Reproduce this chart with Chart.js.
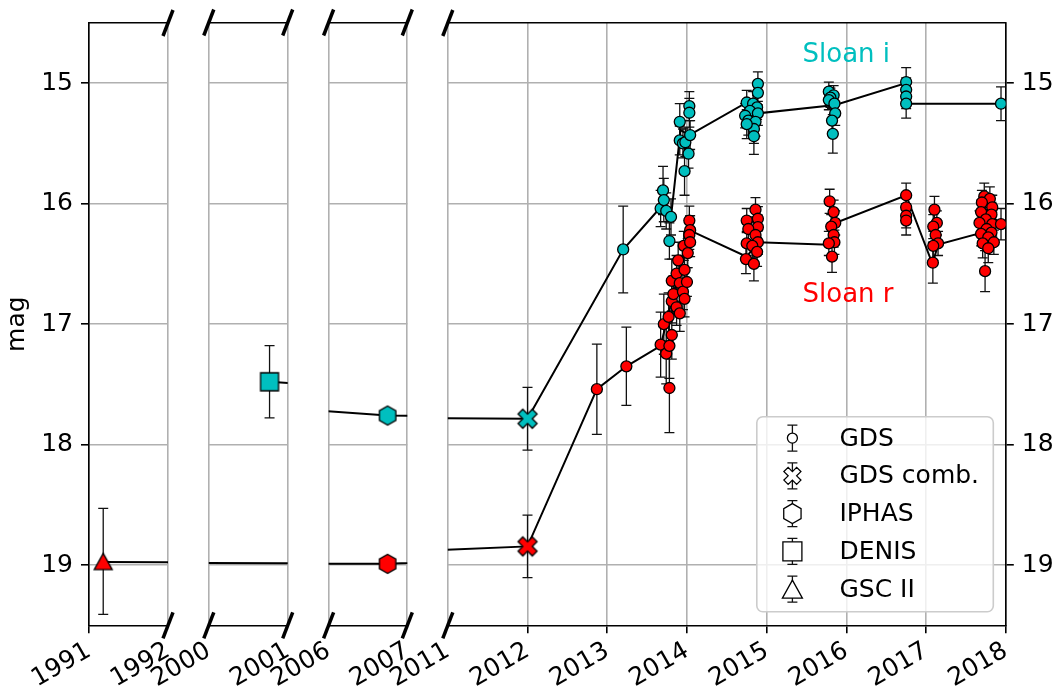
<!DOCTYPE html>
<html lang="en">
<head>
<meta charset="UTF-8">
<title>Light curve</title>
<script src="https://cdn.jsdelivr.net/npm/chart.js"></script>
<style>
  html, body { margin: 0; padding: 0; background: #fff; }
  #wrap { position: relative; width: 1056px; height: 691px; }
  #wrap canvas { position: absolute; left: 0; top: 0; }
</style>
</head>
<body>
<div id="wrap">
  <canvas id="p0" width="1056" height="691"></canvas>
  <canvas id="p1" width="1056" height="691"></canvas>
  <canvas id="p2" width="1056" height="691"></canvas>
  <canvas id="p3" width="1056" height="691"></canvas>
</div>
<script>
// ---- data ----
const panelStart = [1991, 2000, 2006, 2011];
const panelEnd = [1992, 2001, 2007, 2018];
const xTicks = [[1991, 1992], [2000, 2001], [2006, 2007], [2011, 2012, 2013, 2014, 2015, 2016, 2017, 2018]];
const yTicks = [15, 16, 17, 18, 19];

// GDS single epochs, Sloan i
const gdsIYear = [2013.20, 2013.67, 2013.70, 2013.71, 2013.74, 2013.80, 2013.78, 2013.91, 2013.91, 2013.95, 2013.98, 2013.97, 2014.02, 2014.03, 2014.03, 2014.04,
  2014.89, 2014.89, 2014.75, 2014.83, 2014.88, 2014.79, 2014.89, 2014.73, 2014.77, 2014.86, 2014.84, 2014.75, 2014.84,
  2015.78, 2015.84, 2015.80, 2015.78, 2015.85, 2015.86, 2015.82, 2015.83,
  2016.75, 2016.75, 2016.75, 2016.75, 2017.94];
const gdsIMag = [16.38, 16.04, 15.89, 15.97, 16.06, 16.11, 16.31, 15.32, 15.475, 15.50, 15.49, 15.73, 15.585, 15.19, 15.245, 15.43,
  15.005, 15.08, 15.16, 15.17, 15.20, 15.23, 15.25, 15.27, 15.31, 15.32, 15.38, 15.34, 15.44,
  15.07, 15.10, 15.12, 15.14, 15.17, 15.25, 15.31, 15.42,
  14.99, 15.055, 15.11, 15.17, 15.17];
const gdsIErr = [0.36, 0.15, 0.2, 0.18, 0.15, 0.15, 0.15, 0.15, 0.12, 0.12, 0.12, 0.2, 0.12, 0.12, 0.12, 0.12,
  0.1, 0.1, 0.1, 0.1, 0.1, 0.1, 0.1, 0.1, 0.12, 0.12, 0.12, 0.12, 0.15,
  0.08, 0.08, 0.08, 0.08, 0.08, 0.1, 0.1, 0.16,
  0.12, 0.1, 0.1, 0.12, 0.14];

// GDS single epochs, Sloan r
const gdsRYear = [2012.87, 2013.24, 2013.67, 2013.71, 2013.74, 2013.77, 2013.78, 2013.78, 2013.81, 2013.81, 2013.81, 2013.83, 2013.87, 2013.87, 2013.89, 2013.91, 2013.91, 2013.95, 2013.96, 2013.97, 2013.97, 2014.00, 2014.01, 2014.03, 2014.04, 2014.03, 2014.04,
  2014.86, 2014.89, 2014.75, 2014.89, 2014.77, 2014.86, 2014.89, 2014.75, 2014.82, 2014.88, 2014.74, 2014.84,
  2015.79, 2015.84, 2015.86, 2015.81, 2015.84, 2015.85, 2015.78, 2015.82,
  2016.75, 2016.75, 2016.75, 2016.75,
  2017.105, 2017.135, 2017.09, 2017.12, 2017.15, 2017.09, 2017.085,
  2017.73, 2017.80, 2017.70, 2017.83, 2017.69, 2017.82, 2017.75, 2017.83, 2017.67, 2017.94, 2017.76, 2017.82, 2017.69, 2017.78, 2017.85, 2017.71, 2017.78, 2017.74];
const gdsRMag = [17.54, 17.35, 17.17, 17.00, 17.245, 16.94, 17.18, 17.53, 17.09, 16.64, 16.81, 16.75, 16.58, 16.86, 16.47, 16.66, 16.91, 16.73, 16.35, 16.55, 16.79, 16.65, 16.41, 16.14, 16.22, 16.26, 16.32,
  16.05, 16.125, 16.14, 16.195, 16.21, 16.26, 16.32, 16.33, 16.35, 16.40, 16.46, 16.50,
  15.98, 16.07, 16.16, 16.19, 16.26, 16.32, 16.33, 16.44,
  15.93, 16.03, 16.10, 16.14,
  16.05, 16.16, 16.19, 16.26, 16.33, 16.35, 16.49,
  15.94, 15.96, 15.99, 16.03, 16.07, 16.09, 16.13, 16.17, 16.16, 16.17, 16.21, 16.24, 16.25, 16.28, 16.32, 16.33, 16.37, 16.56];
const gdsRErr = [0.375, 0.325, 0.27, 0.25, 0.25, 0.2, 0.27, 0.37, 0.2, 0.18, 0.18, 0.15, 0.15, 0.15, 0.15, 0.15, 0.15, 0.15, 0.12, 0.12, 0.15, 0.12, 0.12, 0.12, 0.12, 0.12, 0.12,
  0.1, 0.1, 0.1, 0.1, 0.1, 0.1, 0.1, 0.1, 0.1, 0.12, 0.12, 0.14,
  0.1, 0.1, 0.1, 0.1, 0.1, 0.1, 0.1, 0.13,
  0.1, 0.1, 0.1, 0.12,
  0.11, 0.1, 0.1, 0.1, 0.1, 0.12, 0.17,
  0.11, 0.1, 0.1, 0.1, 0.1, 0.1, 0.1, 0.1, 0.1, 0.13, 0.1, 0.1, 0.1, 0.1, 0.1, 0.12, 0.12, 0.17];

// combined GDS, IPHAS, DENIS, GSC II
const combYear = [2012.0], combIMag = [17.785], combIErr = [0.26], combRMag = [18.845], combRErr = [0.26];
const iphasYear = [2006.75], iphasIMag = [17.76], iphasIErr = [0.03], iphasRMag = [18.99], iphasRErr = [0.03];
const denisYear = [2000.77], denisIMag = [17.48], denisIErr = [0.30];
const gscYear = [1991.18], gscRMag = [18.97], gscRErr = [0.44];

// connecting lines
const lineIYear = [2000.77, 2006.75, 2012.0, 2013.20, 2013.67, 2013.80, 2013.92, 2014.03, 2014.75, 2014.89, 2015.86, 2016.74, 2016.75, 2017.94];
const lineIMag = [17.48, 17.76, 17.785, 16.38, 16.03, 16.11, 15.39, 15.43, 15.16, 15.25, 15.18, 15.0, 15.17, 15.17];
const lineRYear = [1991.18, 2006.75, 2012.0, 2012.87, 2013.24, 2013.67, 2014.03, 2014.75, 2014.89, 2015.78, 2015.86, 2016.75, 2017.08, 2017.15, 2017.76, 2017.94];
const lineRMag = [18.975, 18.99, 18.845, 17.54, 17.35, 17.18, 16.22, 16.44, 16.32, 16.34, 16.16, 15.93, 16.5, 16.34, 16.23, 16.17];

const legendNames = ['GDS', 'GDS comb.', 'IPHAS', 'DENIS', 'GSC II'];
const bandText = ['Sloan i', 'Sloan r'], bandYear = [2015.45, 2015.45], bandMag = [14.82, 16.82];

// ---- layout / style ----
const W = 1056, H = 691, TOP = 22.5, BOTTOM = 625.3;
const PANEL_PX = [[89, 168], [208.8, 287.7], [328.6, 407.3], [447.8, 1005.8]];
const C_I = '#00bfbf', C_R = '#ff0000', GRID = '#b0b0b0';
const FONT = { family: "'DejaVu Sans', sans-serif", size: 25 };
Chart.defaults.font.family = FONT.family;
Chart.defaults.color = '#000';

// marker shapes (s = drawing size, ext = full extent)
function circlePath(ctx, x, y, s) { ctx.beginPath(); ctx.arc(x, y, s, 0, Math.PI * 2); }
function hexPath(ctx, x, y, s) {
  ctx.beginPath();
  for (let k = 0; k < 6; k++) { const a = Math.PI / 3 * k; ctx[k ? 'lineTo' : 'moveTo'](x + s * Math.sin(a), y - s * Math.cos(a)); }
  ctx.closePath();
}
function xPath(ctx, x, y, s) {
  const v = [[.25, 0], [.5, .25], [.75, 0], [1, .25], [.75, .5], [1, .75], [.75, 1], [.5, .75], [.25, 1], [0, .75], [.25, .5], [0, .25]];
  ctx.beginPath();
  v.forEach((p, k) => ctx[k ? 'lineTo' : 'moveTo'](x + (p[0] - .5) * s, y + (p[1] - .5) * s));
  ctx.closePath();
}
function squarePath(ctx, x, y, s) { ctx.beginPath(); ctx.rect(x - s / 2, y - s / 2, s, s); }
function triPath(ctx, x, y, s) {
  ctx.beginPath(); ctx.moveTo(x, y - s * 0.45); ctx.lineTo(x + s / 2, y + s * 0.45); ctx.lineTo(x - s / 2, y + s * 0.45); ctx.closePath();
}
function marker(path, s, ext, fill) {
  const c = document.createElement('canvas'); c.width = c.height = 2 * Math.ceil(ext / 2 + 3);
  const g = c.getContext('2d'); path(g, c.width / 2, c.height / 2, s);
  g.fillStyle = fill; g.fill(); g.lineWidth = 1.3; g.strokeStyle = '#000'; g.stroke();
  return c;
}

const pts = (xs, ys) => xs.map((t, i) => ({ x: t, y: ys[i] }));
const errGroups = [
  [gdsIYear, gdsIMag, gdsIErr], [gdsRYear, gdsRMag, gdsRErr],
  [combYear, combIMag, combIErr], [combYear, combRMag, combRErr],
  [iphasYear, iphasIMag, iphasIErr], [iphasYear, iphasRMag, iphasRErr],
  [denisYear, denisIMag, denisIErr], [gscYear, gscRMag, gscRErr]
];

function datasets() {
  const sc = (data, style, fill, r) => ({ data, pointStyle: style, pointRadius: r || 5.5, backgroundColor: fill, borderColor: '#000', borderWidth: 1.3, showLine: false, order: 1 });
  const ln = data => ({ data, showLine: true, borderColor: '#000', borderWidth: 2, pointRadius: 0, fill: false, order: 5 });
  return [
    ln(pts(lineIYear, lineIMag)), ln(pts(lineRYear, lineRMag)),
    sc(pts(gdsIYear, gdsIMag), 'circle', C_I), sc(pts(gdsRYear, gdsRMag), 'circle', C_R),
    sc(pts(combYear, combIMag), marker(xPath, 19, 19, C_I), C_I), sc(pts(combYear, combRMag), marker(xPath, 19, 19, C_R), C_R),
    sc(pts(iphasYear, iphasIMag), marker(hexPath, 9.5, 19, C_I), C_I), sc(pts(iphasYear, iphasRMag), marker(hexPath, 9.5, 19, C_R), C_R),
    sc(pts(denisYear, denisIMag), marker(squarePath, 18, 18, C_I), C_I),
    sc(pts(gscYear, gscRMag), marker(triPath, 18, 18, C_R), C_R)
  ];
}

const errorBars = {
  id: 'errorBars',
  beforeDatasetsDraw(chart) {
    const { ctx, chartArea: a, scales: { x, y } } = chart;
    ctx.save();
    ctx.beginPath(); ctx.rect(a.left, a.top, a.right - a.left, a.bottom - a.top); ctx.clip();
    ctx.strokeStyle = '#111'; ctx.lineWidth = 1.3;
    errGroups.forEach(([xs, ys, es]) => xs.forEach((t, i) => {
      if (t < x.min - 0.05 || t > x.max + 0.05) return;
      const px = x.getPixelForValue(t), y1 = y.getPixelForValue(ys[i] - es[i]), y2 = y.getPixelForValue(ys[i] + es[i]);
      ctx.beginPath();
      ctx.moveTo(px, y1); ctx.lineTo(px, y2);
      ctx.moveTo(px - 5, y1); ctx.lineTo(px + 5, y1);
      ctx.moveTo(px - 5, y2); ctx.lineTo(px + 5, y2);
      ctx.stroke();
    }));
    ctx.restore();
  }
};

const breakMarks = {
  id: 'breakMarks',
  afterDraw(chart) {
    const k = chart.options.plugins.breakMarks.panel, a = chart.chartArea, ctx = chart.ctx;
    const xs = [];
    if (k > 0) xs.push(a.left);
    if (k < 3) xs.push(a.right);
    ctx.save(); ctx.strokeStyle = '#000'; ctx.lineWidth = 3.5;
    xs.forEach(px => [a.top, a.bottom].forEach(py => {
      ctx.beginPath(); ctx.moveTo(px - 5, py + 13); ctx.lineTo(px + 5, py - 13); ctx.stroke();
    }));
    ctx.restore();
  }
};

const legendAndText = {
  id: 'legendAndText',
  afterDraw(chart) {
    const { ctx, chartArea: a, scales: { x, y } } = chart;
    ctx.save();
    // band labels
    ctx.font = `26px ${FONT.family}`; ctx.textAlign = 'left'; ctx.textBaseline = 'alphabetic';
    bandText.forEach((t, i) => { ctx.fillStyle = i ? C_R : C_I; ctx.fillText(t, x.getPixelForValue(bandYear[i]), y.getPixelForValue(bandMag[i])); });
    // legend
    const w = 236.5, h = 195, x0 = a.right - 12.5 - w, y0 = a.bottom - 13.5 - h;
    ctx.beginPath(); ctx.roundRect(x0, y0, w, h, 6);
    ctx.fillStyle = 'rgba(255,255,255,0.8)'; ctx.fill();
    ctx.strokeStyle = '#cccccc'; ctx.lineWidth = 1.6; ctx.stroke();
    const shapes = [[circlePath, 5], [xPath, 17], [hexPath, 10], [squarePath, 19], [triPath, 20]];
    legendNames.forEach((name, i) => {
      const cy = y0 + 21.3 + i * 37.75, cx = x0 + 35.6;
      ctx.strokeStyle = '#111'; ctx.lineWidth = 1.3;
      ctx.beginPath();
      ctx.moveTo(cx, cy - 13); ctx.lineTo(cx, cy + 13);
      ctx.moveTo(cx - 5, cy - 13); ctx.lineTo(cx + 5, cy - 13);
      ctx.moveTo(cx - 5, cy + 13); ctx.lineTo(cx + 5, cy + 13);
      ctx.stroke();
      shapes[i][0](ctx, cx, cy, shapes[i][1]);
      ctx.fillStyle = '#fff'; ctx.fill(); ctx.strokeStyle = '#000'; ctx.stroke();
      ctx.fillStyle = '#000'; ctx.font = `${FONT.size}px ${FONT.family}`; ctx.textBaseline = 'middle';
      ctx.fillText(name, x0 + 82.6, cy + 1);
    });
    ctx.restore();
  }
};

function makePanel(k) {
  const [L, R] = PANEL_PX[k], hasLeft = k === 0, hasRight = k === 3, showY = hasLeft || hasRight;
  const showTick = v => v === 1991 || (k === 3 && v > 2011);
  return new Chart(document.getElementById('p' + k), {
    type: 'scatter',
    data: { datasets: datasets() },
    plugins: [errorBars, breakMarks].concat(hasRight ? [legendAndText] : []),
    options: {
      responsive: false, animation: false, events: [],
      layout: { padding: { left: hasLeft ? 0 : L, right: hasRight ? 0 : W - R, top: 0, bottom: 0 } },
      plugins: { legend: { display: false }, tooltip: { enabled: false }, breakMarks: { panel: k } },
      scales: {
        x: {
          type: 'linear', position: 'bottom', min: panelStart[k], max: panelEnd[k],
          afterBuildTicks: s => { s.ticks = xTicks[k].map(v => ({ value: v })); },
          afterFit: s => { s.height = H - BOTTOM; },
          ticks: { autoSkip: false, minRotation: 30, maxRotation: 30, font: FONT, color: '#000', padding: 3, callback: v => String(v) },
          grid: { color: GRID, lineWidth: 1.6, tickLength: 8, tickWidth: 1.6, tickColor: c => (c.tick && showTick(c.tick.value)) ? '#000' : 'rgba(0,0,0,0)' },
          border: { display: true, color: '#000', width: 1.6 }
        },
        xt: {
          type: 'linear', position: 'top', min: panelStart[k], max: panelEnd[k],
          afterFit: s => { s.height = TOP; },
          ticks: { display: false }, grid: { display: false, drawTicks: false },
          border: { display: true, color: '#000', width: 1.6 }
        },
        y: {
          type: 'linear', position: hasRight ? 'right' : 'left', reverse: true, min: 14.5, max: 19.5,
          afterBuildTicks: s => { s.ticks = yTicks.map(v => ({ value: v })); },
          afterFit: s => { s.width = hasLeft ? L : hasRight ? W - R : 0; },
          ticks: { display: showY, font: FONT, color: '#000', padding: 8 },
          grid: { color: GRID, lineWidth: 1.6, drawTicks: showY, tickLength: 8, tickWidth: 1.6, tickColor: '#000' },
          border: { display: showY, color: '#000', width: 1.6 },
          title: { display: hasLeft, text: 'mag', font: FONT, color: '#000', padding: { top: 2, bottom: 4 } }
        }
      }
    }
  });
}
[0, 1, 2, 3].forEach(makePanel);
</script>
</body>
</html>
